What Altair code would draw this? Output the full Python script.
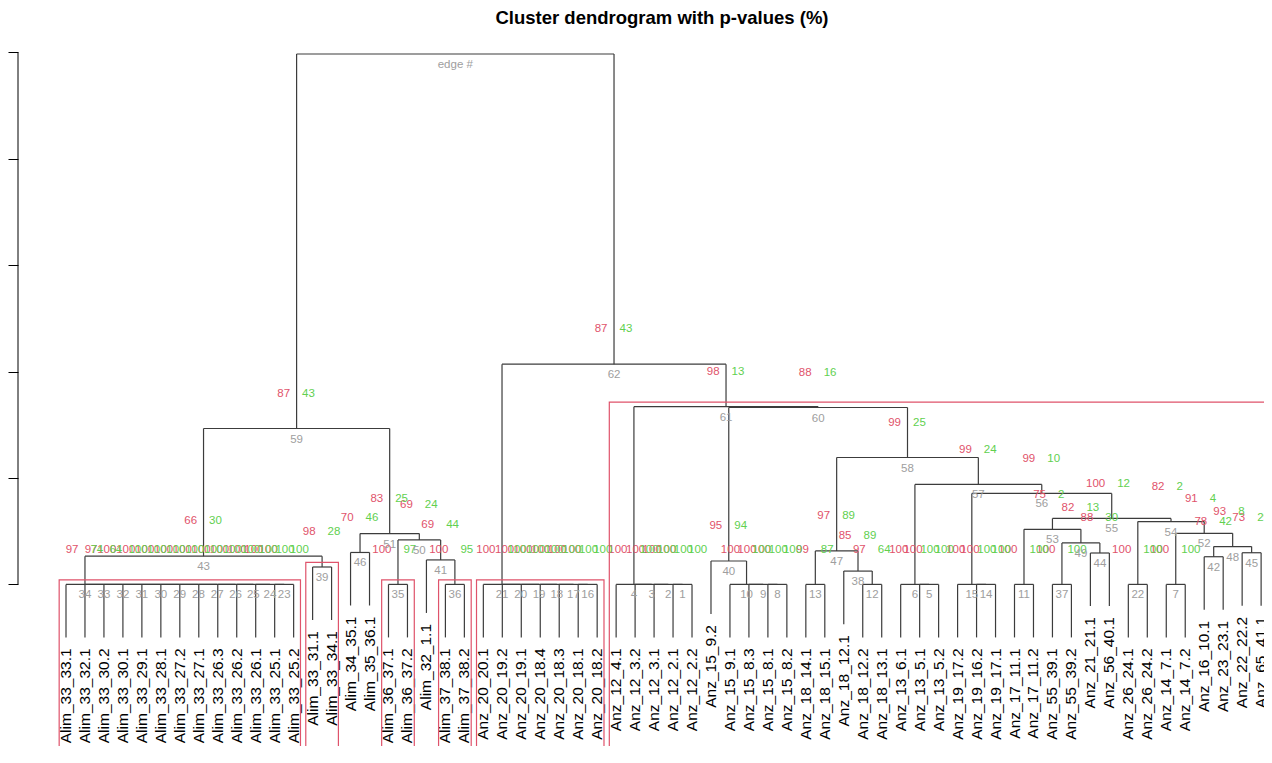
import altair as alt
import pandas as pd

# ---------------- data ----------------
title_text = "Cluster dendrogram with p-values (%)"

leaf_labels = [
    "Alim_33_33.1", "Alim_33_32.1", "Alim_33_30.2", "Alim_33_30.1", "Alim_33_29.1",
    "Alim_33_28.1", "Alim_33_27.2", "Alim_33_27.1", "Alim_33_26.3", "Alim_33_26.2",
    "Alim_33_26.1", "Alim_33_25.1", "Alim_33_25.2", "Alim_33_31.1", "Alim_33_34.1",
    "Alim_34_35.1", "Alim_35_36.1", "Alim_36_37.1", "Alim_36_37.2", "Alim_32_1.1",
    "Alim_37_38.1", "Alim_37_38.2", "Anz_20_20.1", "Anz_20_19.2", "Anz_20_19.1",
    "Anz_20_18.4", "Anz_20_18.3", "Anz_20_18.1", "Anz_20_18.2", "Anz_12_4.1",
    "Anz_12_3.2", "Anz_12_3.1", "Anz_12_2.1", "Anz_12_2.2", "Anz_15_9.2",
    "Anz_15_9.1", "Anz_15_8.3", "Anz_15_8.1", "Anz_15_8.2", "Anz_18_14.1",
    "Anz_18_15.1", "Anz_18_12.1", "Anz_18_12.2", "Anz_18_13.1", "Anz_13_6.1",
    "Anz_13_5.1", "Anz_13_5.2", "Anz_19_17.2", "Anz_19_16.2", "Anz_19_17.1",
    "Anz_17_11.1", "Anz_17_11.2", "Anz_55_39.1", "Anz_55_39.2", "Anz_21_21.1",
    "Anz_56_40.1", "Anz_26_24.1", "Anz_26_24.2", "Anz_14_7.1", "Anz_14_7.2",
    "Anz_16_10.1", "Anz_23_23.1", "Anz_22_22.2", "Anz_65_41.1",
]

# hclust-style merge table: negative = leaf (position in order), positive = edge
merge_left = [
    -33, -32, -31, -30, -46, -45, -59, -38, -37, -36,
    -51, -43, -40, -49, -48, -28, -27, -26, -25, -24,
    -23, -57, -12, -11, -10, -9, -8, -7, -6, -5,
    -4, -3, -2, -1, -18, -21, -53, -42, -14, -35,
    -20, -61, 34, -55, -63, -16, 13, 42, 37, 35,
    46, 7, 11, 22, 53, 15, 6, 47, 43, 40,
    4, 21, 59,
]
merge_right = [
    -34, 1, 2, 3, -47, 5, -60, -39, 8, 9,
    -52, -44, -41, -50, 14, -29, 16, 17, 18, 19,
    20, -58, -13, 23, 24, 25, 26, 27, 28, 29,
    30, 31, 32, 33, -19, -22, -54, 12, -15, 10,
    36, -62, 39, -56, -64, -17, 38, 45, 44, 41,
    50, 48, 49, 52, 54, 55, 56, 57, 51, 58,
    60, 61, 62,
]
merge_height = [
    0, 0, 0, 0, 0, 0, 0, 0, 0, 0,
    0, 0, 0, 0, 0, 0, 0, 0, 0, 0,
    0, 0, 0, 0, 0, 0, 0, 0, 0, 0,
    0, 0, 0, 0, 0, 0, 0, 0.025, 0.0327, 0.044,
    0.046, 0.052, 0.053, 0.059, 0.0595, 0.060, 0.063, 0.071, 0.078, 0.0835,
    0.0955, 0.096, 0.1036, 0.118, 0.124, 0.171, 0.188, 0.2385, 0.293, 0.3325,
    0.334, 0.414, 0.997,
]
# au / bp p-values (%) per edge; the root edge shows none
au_values = [
    100, 100, 100, 100, 100, 100, 100, 100, 100, 100,
    100, 97, 99, 100, 100, 100, 100, 100, 100, 100,
    100, 100, 100, 100, 100, 100, 100, 100, 100, 100,
    100, 100, 97, 97, 100, 100, 100, 85, 98, 95,
    69, 78, 66, 88, 73, 70, 97, 93, 82, 69,
    83, 91, 75, 82, 100, 99, 99, 99, 87, 88,
    98, 87, None,
]
bp_values = [
    100, 100, 100, 100, 100, 100, 100, 100, 100, 100,
    100, 64, 87, 100, 100, 100, 100, 100, 100, 100,
    100, 100, 100, 100, 100, 100, 100, 100, 100, 100,
    100, 100, 64, 74, 97, 95, 100, 89, 28, 94,
    44, 42, 30, 30, 29, 46, 89, 8, 13, 24,
    25, 4, 2, 2, 12, 10, 24, 25, 43, 16,
    13, 43, None,
]
axis_ticks = [0, 0.2, 0.4, 0.6, 0.8, 1.0]
alpha = 95

# ---------------- styles ----------------
FONT = "Liberation Sans"
RED = "#DF536B"
GREEN = "#61D04F"
GRAY = "#9E9E9E"
LINE = "#3c3c3c"

X_DOMAIN = [-1.5303, 64.152]
Y_DOMAIN = [-0.3038, 1.0008]
W, H = 1246, 694

# ---------------- tree layout ----------------
n_edge = len(merge_left)
hmax, hmin = max(merge_height), min(merge_height)
hang = 0.1 * (hmax - hmin)

node_x, node_h, node_members = {}, {}, {}
seg_rows, leaf_rows = [], []
for e in range(1, n_edge + 1):
    h = merge_height[e - 1]
    xs, mem = [], []
    for c in (merge_left[e - 1], merge_right[e - 1]):
        if c < 0:
            xc, hc = float(-c), h - hang
            leaf_rows.append({"x": xc, "y": hc, "label": leaf_labels[-c - 1]})
            mem.append(-c)
        else:
            xc, hc = node_x[c], node_h[c]
            mem.extend(node_members[c])
        seg_rows.append({"x": xc, "x2": xc, "y": h, "y2": hc})
        xs.append(xc)
    seg_rows.append({"x": xs[0], "x2": xs[1], "y": h, "y2": h})
    node_x[e] = (xs[0] + xs[1]) / 2
    node_h[e] = h
    node_members[e] = mem

pv_rows, edge_rows = [], []
for e in range(1, n_edge + 1):
    edge_rows.append({"x": node_x[e], "y": node_h[e],
                      "edge": "edge #" if e == n_edge else str(e)})
    if au_values[e - 1] is not None:
        pv_rows.append({"x": node_x[e], "y": node_h[e],
                        "au": str(au_values[e - 1]), "bp": str(bp_values[e - 1])})

# pvrect: maximal clusters with au >= alpha (boxes run off the bottom of the plot)
rect_rows = []
def walk(e):
    a = au_values[e - 1]
    if e != n_edge and a is not None and a >= alpha:
        mem = node_members[e]
        rect_rows.append({"x": min(mem) - 0.36, "x2": max(mem) + 0.36,
                          "y": node_h[e] + 0.0085, "y2": Y_DOMAIN[0] - 0.05})
        return
    for c in (merge_left[e - 1], merge_right[e - 1]):
        if c > 0:
            walk(c)
walk(n_edge)

segs = pd.DataFrame(seg_rows)
leaves = pd.DataFrame(leaf_rows)
pvs = pd.DataFrame(pv_rows)
edges = pd.DataFrame(edge_rows)
rects = pd.DataFrame(rect_rows)
axis_df = pd.DataFrame({"y": [axis_ticks[0]], "y2": [axis_ticks[-1]]})

xs = alt.Scale(domain=X_DOMAIN, nice=False, zero=False)
ys = alt.Scale(domain=Y_DOMAIN, nice=False, zero=False)
yaxis = alt.Axis(values=axis_ticks, labels=False, ticks=True, tickSize=10,
                 tickColor="black", tickWidth=1, domain=False, grid=False, title=None)

def X(f):
    return alt.X(f, type="quantitative", scale=xs, axis=None)

def Y(f):
    return alt.Y(f, type="quantitative", scale=ys, axis=yaxis)

axis_line = alt.Chart(axis_df).mark_rule(color="black", strokeWidth=1).encode(
    x=alt.value(0), y=Y("y"), y2=alt.Y2("y2"))

tree = alt.Chart(segs).mark_rule(color=LINE, strokeWidth=1.2).encode(
    x=X("x"), x2=alt.X2("x2"), y=Y("y"), y2=alt.Y2("y2"))

leaf_text = alt.Chart(leaves).mark_text(
    angle=270, align="right", baseline="middle", dx=-11,
    font=FONT, fontSize=15.5, color="black").encode(
    x=X("x"), y=Y("y"), text="label:N")

au_text = alt.Chart(pvs).mark_text(
    align="right", baseline="middle", dx=-6.5, dy=-34.7,
    font=FONT, fontSize=11.5, color=RED).encode(
    x=X("x"), y=Y("y"), text="au:N")

bp_text = alt.Chart(pvs).mark_text(
    align="left", baseline="middle", dx=5.5, dy=-34.7,
    font=FONT, fontSize=11.5, color=GREEN).encode(
    x=X("x"), y=Y("y"), text="bp:N")

edge_text = alt.Chart(edges).mark_text(
    align="center", baseline="middle", dy=11,
    font=FONT, fontSize=11.5, color=GRAY).encode(
    x=X("x"), y=Y("y"), text="edge:N")

rect_layer = alt.Chart(rects).mark_rect(
    fill="transparent", stroke=RED, strokeWidth=1.2, clip=True).encode(
    x=X("x"), x2=alt.X2("x2"), y=Y("y"), y2=alt.Y2("y2"))

chart = alt.layer(
    axis_line, tree, leaf_text, au_text, bp_text, edge_text, rect_layer
).properties(
    width=W, height=H,
    background="white",
    title=alt.TitleParams(title_text, font=FONT, fontSize=18.5, fontWeight="bold",
                          color="black", anchor="middle", frame="group",
                          offset=24, dx=21),
    autosize=alt.AutoSizeParams(type="none"),
    padding={"left": 10, "top": 44, "right": 0, "bottom": 0},
).configure_view(stroke=None)

chart.save("out.html", embed_options={"renderer": "svg", "actions": False})
